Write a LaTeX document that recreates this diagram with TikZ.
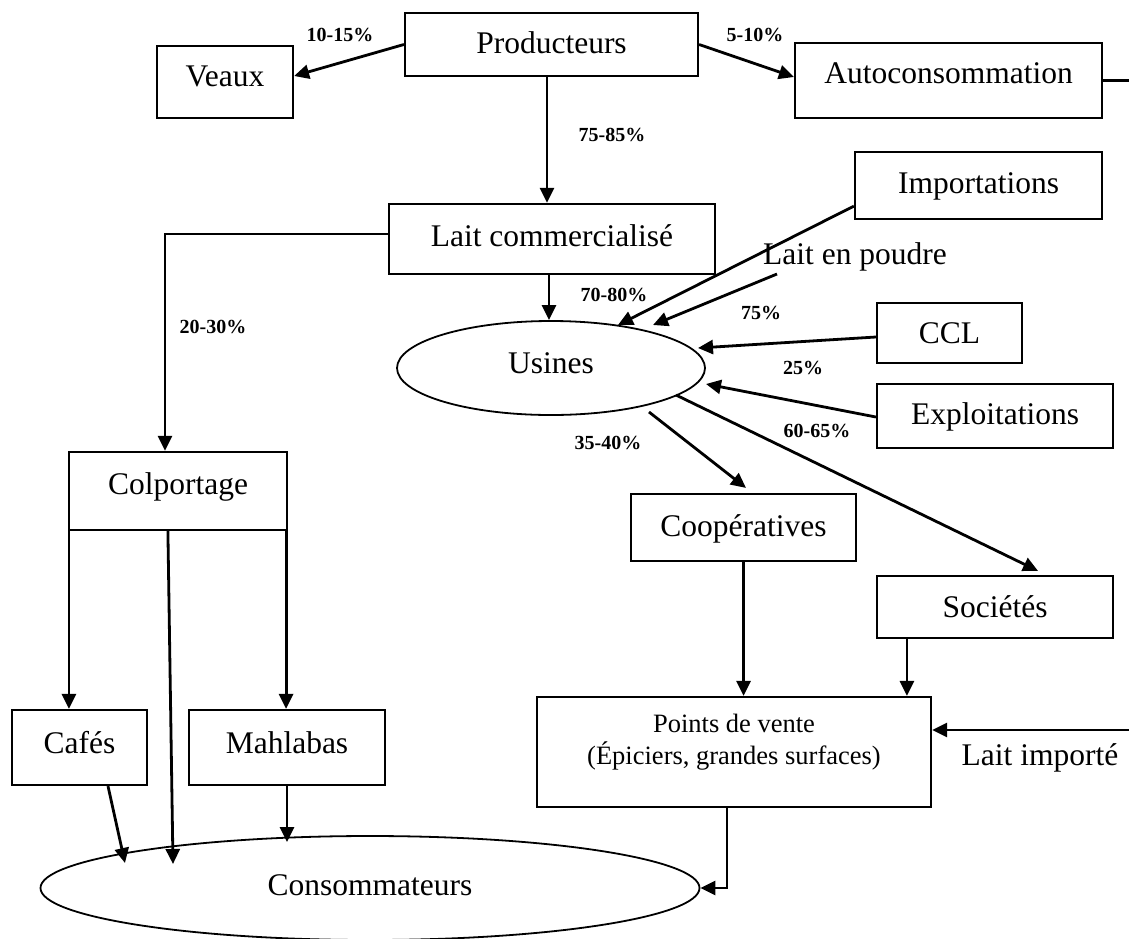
\documentclass[tikz,border=0pt]{standalone}
\usepackage{fontspec}
\setmainfont{Liberation Serif}
\usetikzlibrary{arrows.meta,calc,shapes.geometric}

\begin{document}
\begin{tikzpicture}[x=1pt,y=-1pt,
  box/.style={draw,line width=2.2pt,rectangle,inner sep=0pt,
    font=\fontsize{31.5}{36}\selectfont,text height=22pt,text depth=7pt},
  lift/.style={text depth=#1},
  oval/.style={draw,line width=1.8pt,ellipse,inner sep=0pt,
    font=\fontsize{31.5}{36}\selectfont,text height=22pt,text depth=7pt},
  pct/.style={font=\bfseries\fontsize{20}{24}\selectfont,inner sep=0pt},
  tag/.style={font=\fontsize{31.5}{36}\selectfont,inner sep=0pt},
  flow/.style={line width=2.8pt,-{Triangle[length=15pt,width=14pt]}},
  link/.style={line width=2.8pt},
]
% page frame (pixel-like units, y pointing down)
\clip (0,0) rectangle (1129,938);
\fill[white] (0,0) rectangle (1129,938);

% ---- boxes ----
\node[box,lift=5pt,minimum width=293pt,minimum height=63pt] (prod) at (551.5,44.5) {Producteurs};
\node[box,lift=13pt,minimum width=136pt,minimum height=72pt] (veaux) at (225,82) {Veaux};
\node[box,lift=16pt,minimum width=307pt,minimum height=75pt] (auto) at (948.5,80.5) {Autoconsommation};
\node[box,lift=7pt,minimum width=326pt,minimum height=70pt] (lcom) at (552,239) {Lait commercialisé};
\node[box,lift=7pt,minimum width=247pt,minimum height=67pt] (imp) at (978.5,185.5) {Importations};
\node[box,lift=1pt,minimum width=145pt,minimum height=60pt] (ccl) at (949.5,333) {CCL};
\node[box,lift=5pt,minimum width=236pt,minimum height=64pt] (expl) at (995,416) {Exploitations};
\node[box,lift=16pt,minimum width=218pt,minimum height=78pt] (colp) at (178,491) {Colportage};
\node[box,lift=4pt,minimum width=225pt,minimum height=67pt] (coop) at (743.5,527.5) {Coopératives};
\node[box,lift=1pt,minimum width=236pt,minimum height=62pt] (soc) at (995,607) {Sociétés};
\node[box,lift=11pt,minimum width=135pt,minimum height=75pt] (cafes) at (79.5,747.5) {Cafés};
\node[box,lift=11pt,minimum width=196pt,minimum height=75pt] (mahl) at (287,747.5) {Mahlabas};
\node[box,minimum width=394pt,minimum height=110pt] (pdv) at (734,752) {};
\node[font=\fontsize{26.5}{32}\selectfont,align=center,inner sep=0pt] (pdvtxt) at (734,742)
  {Points de vente\\(Épiciers, grandes surfaces)};

% ---- ellipses ----
\node[oval,lift=12pt,minimum width=308pt,minimum height=94pt] (usines) at (551,368) {Usines};
\node[oval,minimum width=659pt,minimum height=104pt] (conso) at (370,888) {Consommateurs};

% ---- free labels ----
\node[tag] (poudre) at (855,257) {Lait en poudre};
\node[tag] (limptxt) at (1040,758) {Lait importé};
\node[pct] (p1) at (340,35) {10-15\%};
\node[pct] (p2) at (755,35) {5-10\%};
\node[pct] (p3) at (612,135) {75-85\%};
\node[pct] (p4) at (614,295) {70-80\%};
\node[pct] (p5) at (213,327) {20-30\%};
\node[pct] (p6) at (761,313) {75\%};
\node[pct] (p7) at (803,368) {25\%};
\node[pct] (p8) at (817,431) {60-65\%};
\node[pct] (p9) at (608,443) {35-40\%};

% ---- helper points ----
\coordinate (pd) at ($(prod.south)+(-4.5,0)$);
\coordinate (ld) at ($(lcom.south)+(-3,0)$);
\coordinate (imps) at ($(imp.south west)+(0,-14)$);
\coordinate (lps) at (777,274);
\coordinate (autoout) at (1129,80.5);
\coordinate (limps) at (1129,730);
\coordinate (socd) at ($(soc.south west)+(31,0)$);
\coordinate (pdvd) at ($(pdv.south)+(-7,0)$);
\coordinate (colpl) at ($(colp.south west)+(1,0)$);
\coordinate (colpr) at ($(colp.south east)+(-2,0)$);

% ---- connectors ----
\draw[flow] (prod.west) -- ($(veaux.east)+(0,-6)$);
\draw[flow] (prod.east) -- ($(auto.west)+(0,-3.5)$);
\draw[link] (auto.east) -- (autoout);
\draw[flow] (pd) -- (pd |- lcom.north);
\draw[flow] ($(lcom.west)+(0,-5)$) -| ($(colp.north)+(-13,0)$);
\draw[flow] (ld) -- (ld |- usines.north);
\draw[flow] (imps) -- ($(usines.center)+(67,-43)$);
\draw[flow] (lps) -- ($(usines.center)+(102,-43)$);
\draw[flow] ($(ccl.west)+(0,4)$) -- ($(usines.center)+(147,-20)$);
\draw[flow] ($(expl.west)+(0,1)$) -- ($(usines.center)+(155,16)$);
\draw[flow] ($(usines.center)+(98,44)$) -- ($(coop.north)+(2.5,-5)$);
\draw[flow] ($(usines.center)+(125,27)$) -- ($(soc.north)+(43,-4)$);
\draw[flow] (coop.south) -- (coop.south |- pdv.north);
\draw[flow] (socd) -- (socd |- pdv.north);
\draw[flow] (limps) -- (limps -| pdv.east);
\draw[flow] (pdvd) |- (conso.east);
\draw[flow] (colpl) -- (colpl |- cafes.north);
\draw[flow] (colpr) -- (colpr |- mahl.north);
\draw[flow] ($(colp.south west)+(100,0)$) -- ($(conso.center)+(-197,-24)$);
\draw[flow] ($(cafes.south)+(28.5,0)$) -- ($(conso.center)+(-245,-25)$);
\draw[flow] (mahl.south) -- ($(conso.center)+(-83,-46)$);
\end{tikzpicture}
\end{document}
